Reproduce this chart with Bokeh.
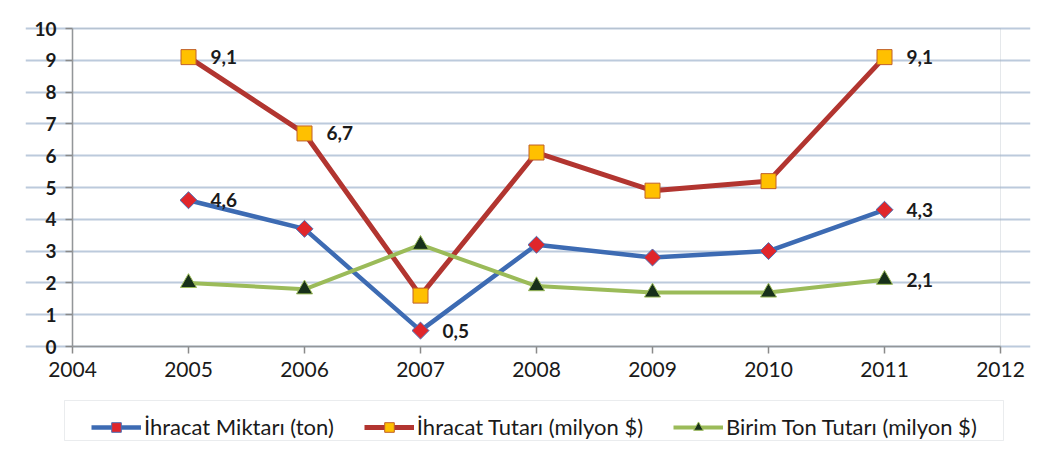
import math
from bokeh.plotting import figure
from bokeh.models import (ColumnDataSource, FixedTicker, Range1d, Legend, LegendItem, LabelSet,
                          BoxAnnotation)
from bokeh.core.properties import value
from bokeh.embed import file_html
from bokeh.resources import INLINE

# Data
years = [2005, 2006, 2007, 2008, 2009, 2010, 2011]
ihracat_miktari = [4.6, 3.7, 0.5, 3.2, 2.8, 3.0, 4.3]
ihracat_tutari = [9.1, 6.7, 1.6, 6.1, 4.9, 5.2, 9.1]
birim_ton_tutari = [2.0, 1.8, 3.2, 1.9, 1.7, 1.7, 2.1]
series_names = ["İhracat Miktarı (ton)", "İhracat Tutarı (milyon $)", "Birim Ton Tutarı (milyon $)"]
x_ticks = [2004, 2005, 2006, 2007, 2008, 2009, 2010, 2011, 2012]
y_ticks = [0, 1, 2, 3, 4, 5, 6, 7, 8, 9, 10]
x_min, x_max = 2004, 2012
y_min, y_max = 0, 10
# which points carry a value label
labeled_miktar = [2005, 2007, 2011]
labeled_tutar = [2005, 2006, 2011]
labeled_birim = [2011]

FONT = "Lato"

# pixel scales of the plot area; the frame is padded around it so that the
# axis labels and the legend are drawn inside it
PX_PER_YEAR = 116
PX_PER_UNIT = 31.8
p = figure(frame_width=1005, frame_height=435, output_backend="svg", toolbar_location=None,
           x_range=Range1d(x_min - 47 / PX_PER_YEAR, x_max + 30 / PX_PER_YEAR),
           y_range=Range1d(y_min - 101 / PX_PER_UNIT, y_max + 16 / PX_PER_UNIT),
           min_border_left=25, min_border_right=21, min_border_top=12, min_border_bottom=3)
p.background_fill_color = "white"
p.border_fill_color = "white"
p.outline_line_color = None

# plot-area border
p.add_layout(BoxAnnotation(left=x_min, right=x_max, bottom=y_min, top=y_max,
                           fill_color=None, line_color="#A9B3BE", line_width=1))

# axes
p.xaxis.ticker = FixedTicker(ticks=x_ticks)
p.yaxis.ticker = FixedTicker(ticks=y_ticks)
p.xaxis.fixed_location = y_min
p.yaxis.fixed_location = x_min
p.xaxis.bounds = (x_min, x_max)
p.yaxis.bounds = (y_min, y_max)
for ax in (p.xaxis[0], p.yaxis[0]):
    ax.axis_line_color = "#8A8A8A"
    ax.axis_line_width = 1.5
    ax.major_tick_line_color = "#8A8A8A"
    ax.major_tick_line_width = 1.5
    ax.major_tick_out = 7
    ax.major_tick_in = 0
    ax.minor_tick_line_color = None
    ax.major_label_text_font = FONT
    ax.major_label_text_color = "#1a1a1a"
p.xaxis.major_label_text_font_size = "21px"
p.xaxis.major_label_standoff = 8
p.yaxis.major_label_text_font_size = "19px"
p.yaxis.major_label_text_font_style = "bold"
p.yaxis.major_label_standoff = 9
p.xgrid.grid_line_color = None
p.ygrid.grid_line_color = "#BCCADC"
p.ygrid.grid_line_width = 2
p.ygrid.bounds = (x_min, x_max)

src = ColumnDataSource(dict(x=years, m=ihracat_miktari, t=ihracat_tutari, b=birim_ton_tutari))

l1 = p.line("x", "m", source=src, line_color="#3D6BB3", line_width=4.5)
s1 = p.scatter("x", "m", source=src, marker="square", angle=math.pi / 4, size=12,
               fill_color="#E0262B", line_color="#4A6FB5", line_width=1)
l2 = p.line("x", "t", source=src, line_color="#B23530", line_width=5)
s2 = p.scatter("x", "t", source=src, marker="square", size=15,
               fill_color="#FFC000", line_color="#C0602A", line_width=1)
l3 = p.line("x", "b", source=src, line_color="#9BBB59", line_width=4)
s3 = p.scatter("x", "b", source=src, marker="triangle", size=16,
               fill_color="#17301A", line_color="#9BBB59", line_width=1)


def fmt(v):
    return f"{v:.1f}".replace(".", ",")


def label_source(xs, ys, keep):
    pts = [(x, y) for x, y in zip(xs, ys) if x in keep]
    return ColumnDataSource(dict(x=[a for a, _ in pts], y=[b for _, b in pts],
                                 txt=[fmt(b) for _, b in pts]))


for keep, vals in ((labeled_miktar, ihracat_miktari), (labeled_tutar, ihracat_tutari),
                   (labeled_birim, birim_ton_tutari)):
    p.add_layout(LabelSet(x="x", y="y", text="txt", source=label_source(years, vals, keep),
                          x_offset=22, y_offset=0, text_baseline="middle",
                          text_font=value(FONT), text_font_size=value("19px"),
                          text_font_style=value("bold"), text_color="#1a1a1a"))

# legend frame, a little wider than the legend entries themselves
p.add_layout(BoxAnnotation(left=64, right=1003, top=400, bottom=440,
                           left_units="canvas", right_units="canvas",
                           top_units="canvas", bottom_units="canvas",
                           fill_color=None, line_color="#B8C0C8", line_width=1))

legend = Legend(items=[LegendItem(label=series_names[0], renderers=[l1, s1]),
                       LegendItem(label=series_names[1], renderers=[l2, s2]),
                       LegendItem(label=series_names[2], renderers=[l3, s3])],
                orientation="horizontal", location=(66, 7))
legend.label_text_font = FONT
legend.label_text_font_size = "22px"
legend.label_text_color = "#1a1a1a"
legend.glyph_width = 50
legend.glyph_height = 24
legend.label_standoff = 3
legend.spacing = 30
legend.padding = 7
legend.margin = 0
legend.border_line_color = None
legend.background_fill_alpha = 0
p.add_layout(legend, "center")

open("out.html", "w").write(file_html(p, INLINE))
